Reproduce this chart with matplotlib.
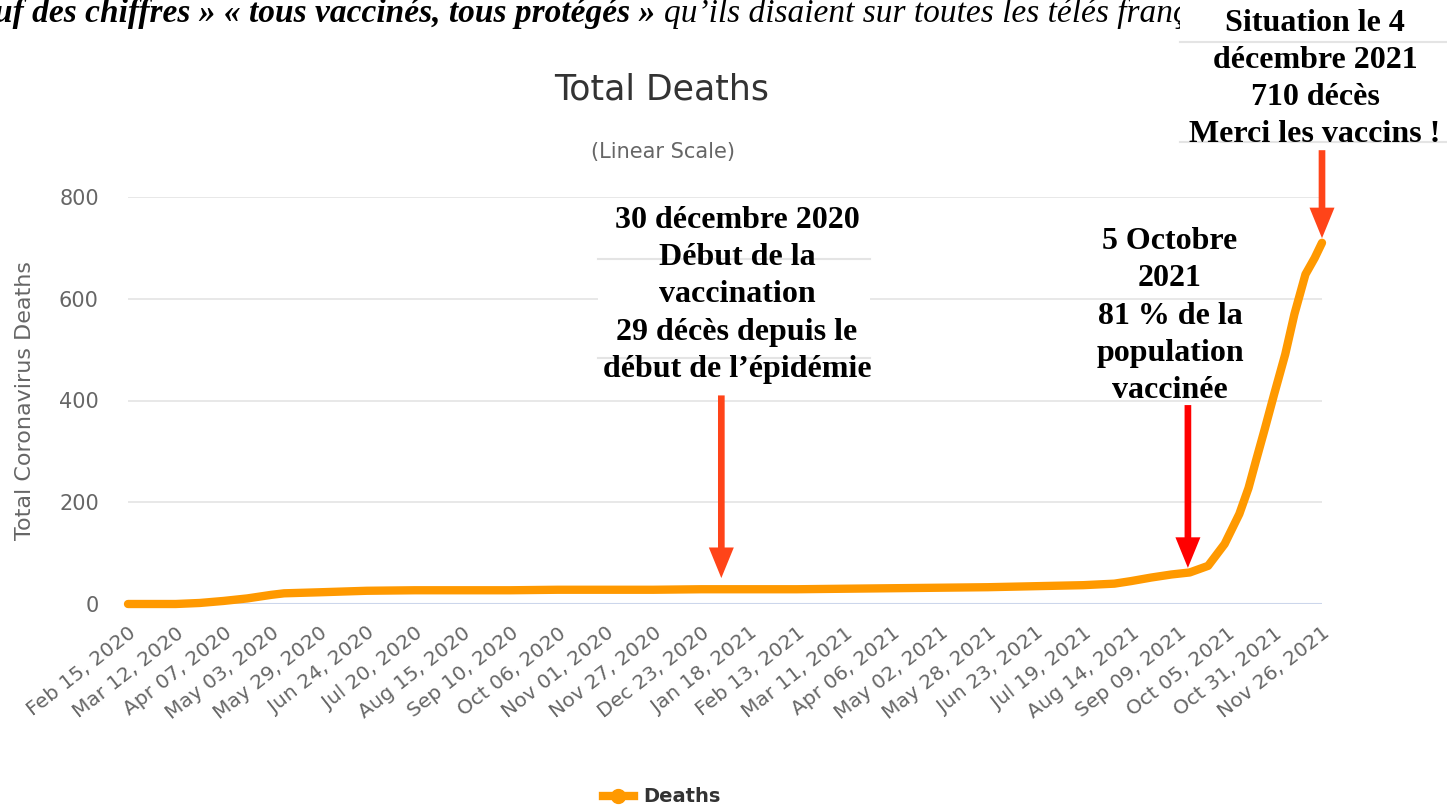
import matplotlib
matplotlib.use("Agg")
import matplotlib.pyplot as plt
from matplotlib.patches import Rectangle
from matplotlib.lines import Line2D
import pandas as pd

# cumulative deaths
dates = ["2020-02-15", "2020-03-12", "2020-03-25", "2020-04-07", "2020-04-20",
         "2020-05-03", "2020-05-10", "2020-05-29", "2020-06-24", "2020-07-20",
         "2020-08-15", "2020-09-10", "2020-10-06", "2020-11-01", "2020-11-27",
         "2020-12-23", "2021-01-18", "2021-02-13", "2021-03-11", "2021-04-06",
         "2021-05-02", "2021-05-28", "2021-06-23", "2021-07-19", "2021-08-05",
         "2021-08-14", "2021-08-25", "2021-09-05", "2021-09-15", "2021-09-25",
         "2021-10-04", "2021-10-12", "2021-10-17", "2021-10-21", "2021-10-26",
         "2021-10-31", "2021-11-06", "2021-11-11", "2021-11-17", "2021-11-22",
         "2021-11-26"]
deaths = [0, 0, 2, 6, 11,
          18, 21, 23, 26, 27,
          27, 27, 28, 28, 28,
          29, 29, 29, 30, 31,
          32, 33, 35, 37, 40,
          45, 52, 58, 62, 75,
          118, 177, 228, 281, 346,
          413, 491, 570, 648, 680,
          710]

tick_labels = ["Feb 15, 2020", "Mar 12, 2020", "Apr 07, 2020", "May 03, 2020",
               "May 29, 2020", "Jun 24, 2020", "Jul 20, 2020", "Aug 15, 2020",
               "Sep 10, 2020", "Oct 06, 2020", "Nov 01, 2020", "Nov 27, 2020",
               "Dec 23, 2020", "Jan 18, 2021", "Feb 13, 2021", "Mar 11, 2021",
               "Apr 06, 2021", "May 02, 2021", "May 28, 2021", "Jun 23, 2021",
               "Jul 19, 2021", "Aug 14, 2021", "Sep 09, 2021", "Oct 05, 2021",
               "Oct 31, 2021", "Nov 26, 2021"]
y_ticks = [0, 200, 400, 600, 800]

note_vacc = "30 décembre 2020\nDébut de la\nvaccination\n29 décès depuis le\ndébut de l’épidémie"
note_oct = "5 Octobre\n2021\n81 % de la\npopulation\nvaccinée"
note_dec = "Situation le 4\ndécembre 2021\n710 décès\nMerci les vaccins !"
top_bold = "uf des chiffres » « tous vaccinés, tous protégés » "
top_regular = "qu’ils disaient sur toutes les télés françaises"

W, H = 1447, 810
x = pd.to_datetime(dates)
ticks = pd.to_datetime(tick_labels, format="%b %d, %Y")


def px(xp, yp):
    return xp / W, 1 - yp / H


fig = plt.figure(figsize=(W / 100, H / 100), dpi=100)
ax = fig.add_axes([128 / W, 1 - 604 / H, (1322 - 128) / W, (604 - 197) / H])

ax.plot(x, deaths, color="#ff9900", lw=6, solid_capstyle="round",
        solid_joinstyle="round", clip_on=False, zorder=3, label="Deaths")

ax.set_xlim(x[0], x[-1])
ax.set_ylim(0, 800)
ax.set_yticks(y_ticks)
ax.set_xticks(ticks)
ax.set_xticklabels(tick_labels, rotation=38, ha="right", rotation_mode="anchor",
                   fontsize=14.5, color="#666666")
ax.tick_params(axis="x", length=0, pad=14)
ax.tick_params(axis="y", length=0, pad=21, labelsize=15, labelcolor="#666666")
for s in ax.spines.values():
    s.set_visible(False)
ax.yaxis.grid(True, color="#e6e6e6", lw=1.3)
ax.set_axisbelow(True)
ax.axhline(0, color="#ccd6eb", lw=1.5, zorder=2)

fig.text(*px(25, 400), "Total Coronavirus Deaths", rotation=90, ha="center",
         va="center", fontsize=16, color="#666666")
fig.text(*px(662, 90), "Total Deaths", ha="center", va="center", fontsize=25,
         color="#333333")
fig.text(*px(663, 152), "(Linear Scale)", ha="center", va="center", fontsize=15,
         color="#666666")

leg = ax.legend(handles=[Line2D([0], [0], color="#ff9900", lw=6, marker="o",
                                markersize=10)],
                labels=["Deaths"], loc="center", frameon=False,
                bbox_to_anchor=px(662, 797), bbox_transform=fig.transFigure,
                handlelength=1.6, handletextpad=0.5,
                prop={"weight": "bold", "size": 14})
for t in leg.get_texts():
    t.set_color("#333333")

# pasted text boxes on top of the screenshot
serif = ["Liberation Serif", "DejaVu Serif"]
t1 = fig.text(*px(-6, 22), top_bold, fontsize=24, style="italic", weight="bold",
              family=serif, va="baseline", ha="left", zorder=1)
r = fig.canvas.get_renderer()
bb = t1.get_window_extent(renderer=r)
fig.text(bb.x1 / W, 1 - 22 / H, top_regular, fontsize=24, style="italic",
         family=serif, va="baseline", ha="left", zorder=1)

x0, y0 = px(1180, 150)
fig.patches.append(Rectangle((x0, y0), 1 - x0, 1 - y0, transform=fig.transFigure,
                             facecolor="white", edgecolor="none", zorder=2))
x0, y0 = px(598, 388)
fig.patches.append(Rectangle((x0, y0), (870 - 598) / W, (388 - 201) / H,
                             transform=fig.transFigure, facecolor="white",
                             edgecolor="none", zorder=2))
for xa, xb, yy in [(1180, 1447, 42), (1180, 1447, 142), (598, 870, 259), (598, 870, 358)]:
    fig.lines.append(Line2D([xa / W, xb / W], [1 - yy / H] * 2, transform=fig.transFigure,
                            color="#e4e4e4", lw=1.5, zorder=2.5))

fig.text(*px(737, 295), note_vacc, ha="center", va="center", fontsize=23,
         weight="bold", family=serif, linespacing=1.37, zorder=3)
fig.text(*px(1170, 316), note_oct, ha="center", va="center", fontsize=23,
         weight="bold", family=serif, linespacing=1.37, zorder=3)
fig.text(*px(1315, 79), note_dec, ha="center", va="center", fontsize=23,
         weight="bold", family=serif, linespacing=1.37, zorder=3)

arrow_style = "simple,head_length=1.1,head_width=0.9,tail_width=0.24"
arrows = [("2021-01-03", 410, 51, "#ff4419"),
          ("2021-09-14", 391, 71, "#ff0000"),
          ("2021-11-26", 892, 719, "#ff4419")]
for d, y_tail, y_tip, c in arrows:
    xd = pd.Timestamp(d)
    ax.annotate("", xy=(xd, y_tip), xytext=(xd, y_tail), annotation_clip=False,
                arrowprops=dict(arrowstyle=arrow_style, color=c, lw=0,
                                mutation_scale=20, shrinkA=0, shrinkB=0),
                zorder=5)

fig.savefig("out.png", dpi=100)
